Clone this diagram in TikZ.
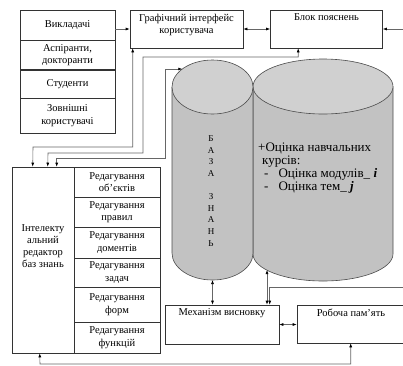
\documentclass[tikz,border=0pt]{standalone}
\usepackage{fontspec}
\setmainfont{Liberation Serif}
\usetikzlibrary{arrows.meta}
\definecolor{cylbody}{HTML}{C2C2C2}
\definecolor{cyltop}{HTML}{D0D0D0}

\begin{document}
\begin{tikzpicture}[x=1pt,y=-1pt,
    box/.style={draw=black!80, line width=0.6pt, align=center, inner sep=2pt, font=\fontsize{10.5}{12.5}\selectfont},
    toptext/.style={anchor=north, align=center, inner sep=4pt, font=\fontsize{10.5}{12.5}\selectfont},
    link/.style={draw=black!60, line width=0.6pt},
    >={Latex[length=4pt,width=3pt,color=black]}]
    \useasboundingbox (0,0) rectangle (403,365);
    \clip (0,0) rectangle (403,365);

    % Users of the system
    \node[box, minimum width=95pt, minimum height=30pt] (vykl) at (67.5,25) {Викладачі};
    \node[box, minimum width=95pt, minimum height=30pt] (asp) at (67.5,55) {Аспіранти,\\докторанти};
    \node[box, minimum width=95pt, minimum height=29pt] (stud) at (67.5,84) {Студенти};
    \node[box, minimum width=95pt, minimum height=35pt] (zovn) at (67.5,115.5) {Зовнішні\\користувачі};

    % Interface and explanation block
    \node[box, minimum width=113pt, minimum height=38pt, label={[toptext]north:{Графічний інтерфейс\\користувача}}] (gui) at (186.5,29) {};
    \node[box, minimum width=112pt, minimum height=38pt, label={[toptext]north:Блок пояснень}] (bpo) at (326.5,29) {};

    % Knowledge base editor
    \node[box, minimum width=148pt, minimum height=186pt] (edt) at (86,260) {};
    \node[align=center, font=\fontsize{10.5}{12}\selectfont] (edtxt) at (43,246) {Інтелекту\\альний\\редактор\\баз знань};
    \node[box, minimum width=86pt, minimum height=30pt] (ed1) at (117,182) {Редагування\\об'єктів};
    \node[box, minimum width=86pt, minimum height=30pt] (ed2) at (117,212) {Редагування\\правил};
    \node[box, minimum width=86pt, minimum height=31pt] (ed3) at (117,242.5) {Редагування\\доментів};
    \node[box, minimum width=86pt, minimum height=29pt] (ed4) at (117,272.5) {Редагування\\задач};
    \node[box, minimum width=86pt, minimum height=35pt] (ed5) at (117,304.5) {Редагування\\форм};
    \node[box, minimum width=86pt, minimum height=31pt] (ed6) at (117,337.5) {Редагування\\функцій};

    % Knowledge base cylinders
    \fill[cylbody] (253,86.5) -- (253,254) arc[start angle=180, end angle=360, x radius=70pt, y radius=27pt] -- (393,86.5) -- cycle;
    \draw[black!70, line width=0.6pt] (253,86.5) -- (253,254) arc[start angle=180, end angle=360, x radius=70pt, y radius=27pt] -- (393,86.5);
    \filldraw[fill=cyltop, draw=black!70, line width=0.6pt] (323,86.5) ellipse[x radius=70pt, y radius=27.5pt];
    \fill[cylbody] (172,87) -- (172,253) arc[start angle=180, end angle=360, x radius=40.5pt, y radius=27pt] -- (253,87) -- cycle;
    \draw[black!70, line width=0.6pt] (172,87) -- (172,253) arc[start angle=180, end angle=360, x radius=40.5pt, y radius=27pt] -- (253,87);
    \filldraw[fill=cyltop, draw=black!70, line width=0.6pt] (212.5,87) ellipse[x radius=40.5pt, y radius=27pt];
    \node[align=center, font=\fontsize{9}{11.6}\selectfont] (kbtxt) at (211,191) {Б\\А\\З\\А\\[11.6pt]З\\Н\\А\\Н\\Ь};
    \node[anchor=north west, align=left, inner sep=0pt, font=\fontsize{13}{12.8}\selectfont] (ektxt) at (258,143)
        {+Оцінка навчальних\\\hspace*{4pt}курсів:\\\hspace*{6pt}-\hspace*{10pt}Оцінка модулів\_ \textbf{\textit{i}}\\\hspace*{6pt}-\hspace*{10pt}Оцінка тем\_ \textbf{\textit{j}}};

    % Inference engine and working memory
    \node[box, minimum width=114pt, minimum height=39pt, label={[toptext]north:Механізм висновку}] (mech) at (222,324.5) {};
    \node[box, minimum width=108pt, minimum height=38pt, label={[toptext]north:Робоча пам'ять}] (mem) at (351,324) {};

    % Connections
    \coordinate (rin) at (403,29);
    \coordinate (kbin) at (182.3,69);
    \coordinate (kbbot) at (212.5,280);
    \coordinate (ekbot) at (267,270);
    \coordinate (rin2) at (403,287);
    \draw[link,->] (vykl.east |- gui.west) -- (gui.west);
    \draw[link,<->] (gui.east) -- (bpo.west);
    \draw[link,->] (rin) -- (bpo.east);
    \draw[link,<->] ([xshift=3pt]gui.south west) |- (33,147) -- ([xshift=21pt]edt.north west);
    \draw[link,<->] ([xshift=28pt]bpo.south west) |- (143,57) |- (48,153) -- ([xshift=36pt]edt.north west);
    \draw[link,<->] (kbin) -| (165,158) -| ([xshift=45pt]edt.north west);
    \draw[link,<->] (kbbot) -- (kbbot |- mech.north);
    \draw[link,<->] (ekbot) -- (ekbot |- mech.north);
    \draw[link,->] (rin2) -| ([xshift=105pt]mech.north west);
    \draw[link,<->] (mech.east) -- (mech.east -| mem.west);
    \draw[link,<->] ([xshift=54pt]mem.south west) |- (40,364) -- ([xshift=28pt]edt.south west);
\end{tikzpicture}
\end{document}
